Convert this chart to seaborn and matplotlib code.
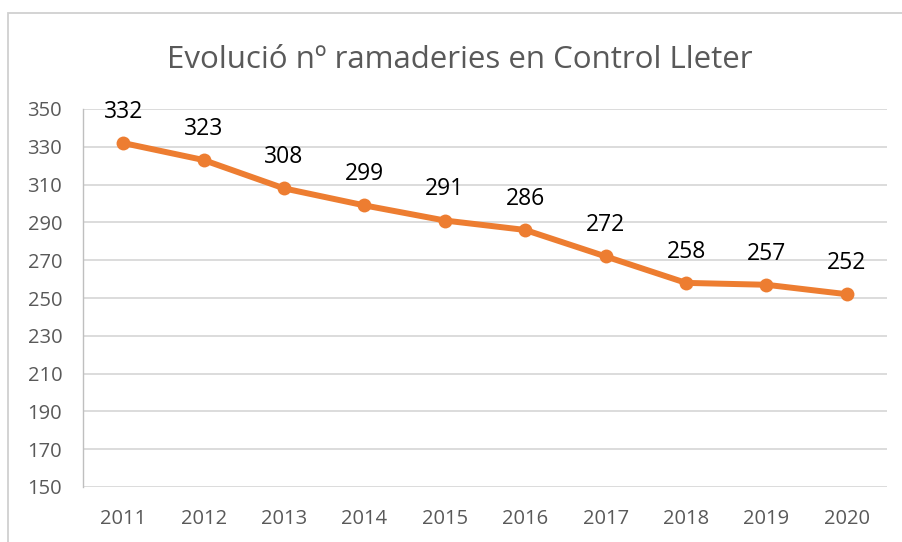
import matplotlib
matplotlib.use('Agg')
import matplotlib.pyplot as plt
import pandas as pd
import seaborn as sns
from matplotlib.patches import Rectangle

# Data
years = ['2011', '2012', '2013', '2014', '2015', '2016', '2017', '2018', '2019', '2020']
farms = [332, 323, 308, 299, 291, 286, 272, 258, 257, 252]
y_ticks = [150, 170, 190, 210, 230, 250, 270, 290, 310, 330, 350]

df = pd.DataFrame({'Any': years, 'Ramaderies': farms})

sns.set_theme(style='white')
plt.rcParams['font.family'] = ['Open Sans', 'DejaVu Sans']

fig = plt.figure(figsize=(9.02, 5.42), dpi=100)
ax = fig.add_axes([83 / 902, 1 - 487 / 542, (887 - 83) / 902, (487 - 109) / 542])

orange = '#ED7D31'
sns.lineplot(data=df, x='Any', y='Ramaderies', ax=ax, color=orange, linewidth=4.3,
             marker='o', markersize=10, markeredgewidth=0, sort=False)

for i, v in enumerate(farms):
    ax.annotate(str(v), (i, v), xytext=(0, 22.5), textcoords='offset points',
                ha='center', va='center', fontsize=16.5, color='black')

ax.set_xlim(-0.5, len(years) - 0.5)
ax.set_ylim(150, 350)
ax.set_yticks(y_ticks)
ax.set_xlabel('')
ax.set_ylabel('')
ax.grid(axis='y', color='#d9d9d9', linewidth=1.3)
ax.set_axisbelow(True)
for s in ['top', 'right', 'bottom']:
    ax.spines[s].set_visible(False)
ax.spines['left'].set_color('#bfbfbf')
ax.spines['left'].set_linewidth(1)
ax.tick_params(axis='both', colors='#595959', labelsize=14.5, length=0)
ax.tick_params(axis='x', pad=16)
ax.tick_params(axis='y', pad=15)

fig.text(460 / 902, 1 - 60 / 542, 'Evolució nº ramaderies en Control Lleter',
         ha='center', va='center', fontsize=22.5, color='#595959')

# chart area border (cropped on right and bottom)
fig.patches.append(Rectangle((8 / 902, -0.05), 1.0, 1 - 13 / 542 + 0.05,
                             transform=fig.transFigure, fill=False,
                             edgecolor='#d0d0d0', linewidth=1.3, clip_on=False))

fig.savefig('out.png', dpi=100)
